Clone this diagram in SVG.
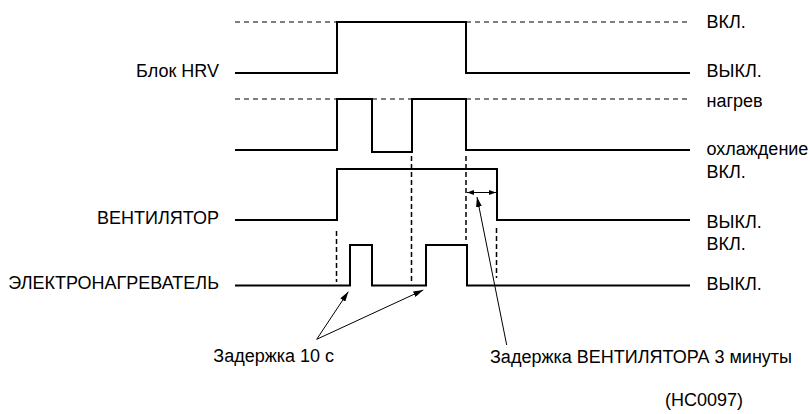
<svg xmlns="http://www.w3.org/2000/svg" width="810" height="414" viewBox="0 0 810 414">
<defs>
<style>
text{font-family:"Liberation Sans",Arial,sans-serif;font-size:18px;fill:#000}
.sig{fill:none;stroke:#000;stroke-width:2}
.ref{fill:none;stroke:#000;stroke-width:1.2;stroke-dasharray:5 4}
.vd{fill:none;stroke:#000;stroke-width:1.5;stroke-dasharray:5 3}
.ptr{fill:none;stroke:#000;stroke-width:1}
</style>
<marker id="ah" viewBox="0 0 10 6" refX="10" refY="3" markerWidth="10" markerHeight="6" markerUnits="userSpaceOnUse" orient="auto"><path d="M0,0 L10,3 L0,6 Z" fill="#000"/></marker>
<marker id="sh" viewBox="0 0 7 5" refX="7" refY="2.5" markerWidth="7" markerHeight="5" markerUnits="userSpaceOnUse" orient="auto-start-reverse"><path d="M0,0 L7,2.5 L0,5 Z" fill="#000"/></marker>
</defs>
<rect width="810" height="414" fill="#fff"/>

<g id="hrv">
<text x="219" y="77" text-anchor="end">Блок HRV</text>
<line class="ref" x1="235" y1="22" x2="336" y2="22"/>
<line class="ref" x1="466" y1="22" x2="690" y2="22"/>
<path class="sig" d="M235,73 H337 V22 H466 V73 H690"/>
<text x="706.5" y="28.3">ВКЛ.</text>
<text x="706.5" y="77">ВЫКЛ.</text>
</g>

<g id="mode">
<line class="ref" x1="235" y1="99" x2="336" y2="99"/>
<line class="ref" x1="372" y1="99" x2="411" y2="99"/>
<line class="ref" x1="466" y1="99" x2="690" y2="99"/>
<path class="sig" d="M235,150 H337 V99 H372 V152 H412 V99 H466 V150 H690"/>
<text x="706.5" y="106.5">нагрев</text>
<text x="706.5" y="155">охлаждение</text>
</g>

<g id="fan">
<text x="219" y="223.5" text-anchor="end">ВЕНТИЛЯТОР</text>
<path class="sig" d="M235,220 H337 V169 H497 V220 H690"/>
<text x="706.5" y="178.3">ВКЛ.</text>
<text x="706.5" y="228.3">ВЫКЛ.</text>
</g>

<g id="heater">
<text x="219" y="288.5" text-anchor="end">ЭЛЕКТРОНАГРЕВАТЕЛЬ</text>
<path class="sig" d="M235,285.5 H350 V245 H372 V285.5 H426 V245 H467 V285.5 H690"/>
<text x="706.5" y="250">ВКЛ.</text>
<text x="706.5" y="290">ВЫКЛ.</text>
</g>

<g id="connectors">
<line class="vd" x1="336.5" y1="231" x2="336.5" y2="282"/>
<line class="vd" x1="411.5" y1="156" x2="411.5" y2="283"/>
<line class="vd" x1="466" y1="156" x2="466" y2="240"/>
<line class="vd" x1="496.5" y1="228" x2="496.5" y2="278"/>
<line class="ptr" x1="467" y1="192.5" x2="496" y2="192.5" marker-start="url(#sh)" marker-end="url(#sh)"/>
<line class="ptr" x1="506.7" y1="345" x2="477" y2="197" marker-end="url(#ah)"/>
<line class="ptr" x1="316.7" y1="339.3" x2="348.3" y2="291.7" marker-end="url(#ah)"/>
<line class="ptr" x1="316.7" y1="339.3" x2="423.3" y2="290" marker-end="url(#ah)"/>
</g>

<g id="labels">
<text x="213.3" y="361.7">Задержка 10 с</text>
<text x="490" y="363">Задержка ВЕНТИЛЯТОРА 3 минуты</text>
<text x="665" y="406">(HC0097)</text>
</g>
</svg>
